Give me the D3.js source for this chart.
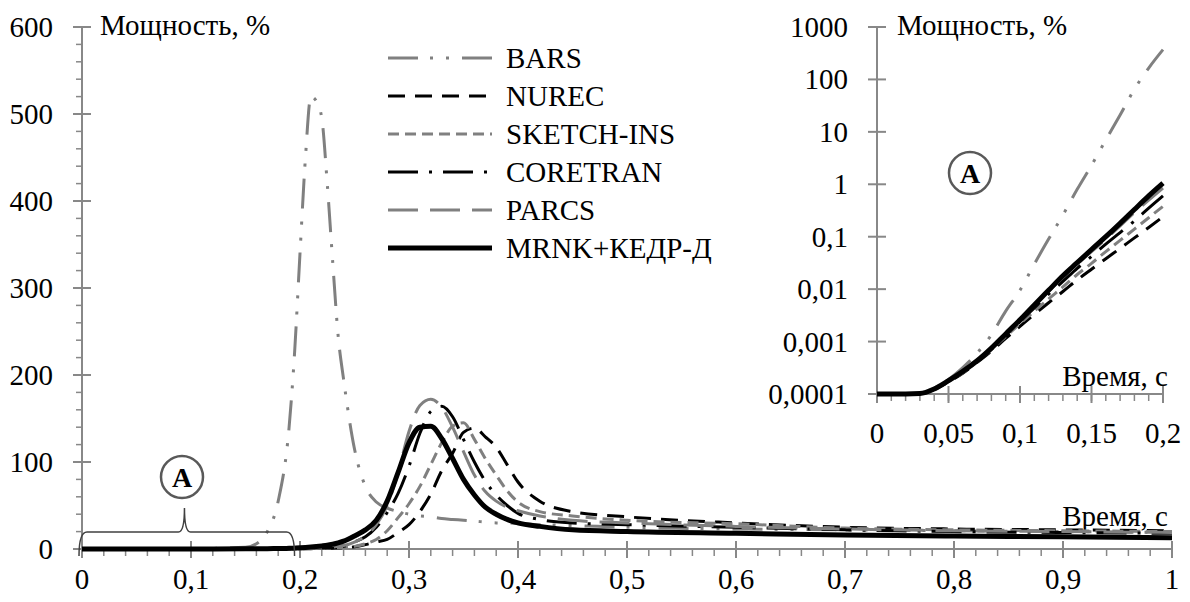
<!DOCTYPE html>
<html>
<head>
<meta charset="utf-8">
<script src="https://cdnjs.cloudflare.com/ajax/libs/d3/7.8.5/d3.min.js"></script>
<style>
  body { margin: 0; background: #fff; }
</style>
</head>
<body>
<div class="chart"></div>
<script>
// main chart, power in % vs time in s
var time = [0, 0.05, 0.1, 0.15, 0.16, 0.17, 0.18, 0.19, 0.195, 0.2, 0.205, 0.21, 0.215, 0.22, 0.225, 0.23, 0.235, 0.24,
  0.25, 0.26, 0.27, 0.28, 0.29, 0.3, 0.31, 0.32, 0.33, 0.34, 0.35, 0.36, 0.37, 0.38, 0.39, 0.4, 0.42, 0.45, 0.5, 0.6, 0.7, 0.8, 0.9, 1.0];
var bars = [0, 0, 0.3, 2, 6, 20, 55, 140, 225, 340, 450, 520, 515, 495, 420, 330, 245, 195,
  115, 72, 54, 47, 43, 40, 38, 37, 35, 34, 33, 32, 31, 30, 30, 29, 28, 27, 25, 23, 22, 21, 20, 19];
var nurec = [0, 0, 0, 0, 0, 0, 0, 0.1, 0.1, 0.2, 0.3, 0.4, 0.5, 0.6, 0.8, 1, 1.2, 1.5,
  2.5, 5, 8, 11, 19, 28, 43, 63, 90, 110, 134, 139, 129, 117, 97, 77, 55, 43, 37, 30, 25, 23, 22, 21];
var sketch = [0, 0, 0, 0, 0, 0, 0, 0.1, 0.2, 0.3, 0.4, 0.5, 0.6, 0.8, 1, 1.2, 1.5, 2,
  3, 6, 11, 21, 36, 52, 72, 97, 122, 141, 145, 126, 104, 85, 67, 54, 43, 38, 33, 29, 24, 22, 21, 20];
var coretran = [0, 0, 0, 0, 0, 0, 0, 0.2, 0.3, 0.4, 0.5, 0.7, 0.9, 1.1, 1.4, 1.8, 2.3, 3,
  8, 14, 25, 42, 64, 95, 133, 158, 164, 152, 126, 100, 78, 62, 50, 41, 34, 30, 28, 25, 22, 20, 19, 18];
var parcs = [0, 0, 0, 0, 0, 0, 0, 0.2, 0.3, 0.4, 0.5, 0.7, 0.9, 1.2, 1.6, 2.2, 3, 4,
  8, 15, 28, 50, 88, 135, 165, 172, 163, 140, 112, 85, 66, 55, 48, 44, 38, 33, 30, 26, 23, 21, 20, 19];
var mrnk = [0, 0, 0, 0.2, 0.3, 0.4, 0.5, 0.8, 1, 1.3, 1.7, 2.2, 2.8, 3.5, 4.3, 5.5, 7, 9,
  15, 22, 33, 55, 88, 122, 140, 141, 127, 104, 80, 62, 48, 40, 34, 30, 26, 22, 20, 18, 16, 15, 14, 13];

// inset, log scale, first 0.2 s
var timeA = [0, 0.01, 0.02, 0.03, 0.04, 0.05, 0.06, 0.07, 0.08, 0.09, 0.1, 0.11, 0.12, 0.13, 0.14, 0.15, 0.16, 0.17, 0.18, 0.19, 0.2];
var barsA = [1e-4, 1e-4, 1e-4, 1.03e-4, 1.3e-4, 1.9e-4, 3.2e-4, 6e-4, 1.35e-3, 3.8e-3, 9.5e-3, 0.03, 0.09, 0.26, 0.8, 2.3, 7, 21, 65, 165, 370];
var nurecA = [1e-4, 1e-4, 1e-4, 1.02e-4, 1.22e-4, 1.7e-4, 2.5e-4, 4e-4, 6.6e-4, 1.15e-3, 1.95e-3, 3.3e-3, 5.5e-3, 9e-3, 0.015, 0.024, 0.038, 0.06, 0.095, 0.15, 0.24];
var sketchA = [1e-4, 1e-4, 1e-4, 1.02e-4, 1.23e-4, 1.72e-4, 2.55e-4, 4.1e-4, 7e-4, 1.25e-3, 2.2e-3, 3.8e-3, 6.5e-3, 0.011, 0.019, 0.031, 0.052, 0.085, 0.14, 0.23, 0.38];
var coretranA = [1e-4, 1e-4, 1e-4, 1.02e-4, 1.25e-4, 1.78e-4, 2.65e-4, 4.2e-4, 7.3e-4, 1.35e-3, 2.4e-3, 4.4e-3, 8e-3, 0.014, 0.025, 0.042, 0.072, 0.12, 0.2, 0.35, 0.6];
var parcsA = [1e-4, 1e-4, 1e-4, 1.02e-4, 1.25e-4, 1.8e-4, 2.7e-4, 4.3e-4, 7.5e-4, 1.4e-3, 2.5e-3, 4.8e-3, 9e-3, 0.017, 0.03, 0.052, 0.09, 0.16, 0.29, 0.5, 0.85];
var mrnkA = [1e-4, 1e-4, 1e-4, 1.02e-4, 1.25e-4, 1.8e-4, 2.7e-4, 4.3e-4, 7.5e-4, 1.4e-3, 2.6e-3, 5e-3, 9.5e-3, 0.018, 0.032, 0.057, 0.1, 0.18, 0.33, 0.6, 1.05];

var yTicks = [0, 100, 200, 300, 400, 500, 600];
var xTicks = [0, 0.1, 0.2, 0.3, 0.4, 0.5, 0.6, 0.7, 0.8, 0.9, 1];
var yTicksA = [1e-4, 1e-3, 0.01, 0.1, 1, 10, 100, 1000];
var xTicksA = [0, 0.05, 0.1, 0.15, 0.2];

var gray = '#808080';
var axisColor = '#888';
var fontSize = 29;

var series = [
  { name: 'BARS', main: bars, inset: barsA, color: gray, width: 3, dash: '30 12 3 13 3 13' },
  { name: 'NUREC', main: nurec, inset: nurecA, color: '#000', width: 3, dash: '17 10' },
  { name: 'SKETCH-INS', main: sketch, inset: sketchA, color: gray, width: 3, dash: '11 6' },
  { name: 'CORETRAN', main: coretran, inset: coretranA, color: '#000', width: 3, dash: '30 11 3 11' },
  { name: 'PARCS', main: parcs, inset: parcsA, color: gray, width: 3, dash: '30 12' },
  { name: 'MRNK+КЕДР-Д', main: mrnk, inset: mrnkA, color: '#000', width: 5, dash: null }
];

var W = 1190, H = 602;

var svg = d3.select('.chart')
  .append('svg')
    .attr('width', W)
    .attr('height', H)
    .attr('font-family', 'Liberation Serif, Tinos, DejaVu Serif, serif');

var x = d3.scaleLinear().domain([0, 1]).range([82, 1172]);
var y = d3.scaleLinear().domain([0, 600]).range([549, 27]);
var xi = d3.scaleLinear().domain([0, 0.2]).range([877, 1163]);
var yi = d3.scaleLog().domain([1e-4, 1000]).range([394, 27]);

// ---------- main axes ----------
var g = svg.append('g');

g.append('line')
  .attr('x1', x(0)).attr('x2', x(0))
  .attr('y1', y(0)).attr('y2', y(600))
  .attr('stroke', axisColor).attr('stroke-width', 2);
g.append('line')
  .attr('x1', x(0)).attr('x2', x(1))
  .attr('y1', y(0)).attr('y2', y(0))
  .attr('stroke', axisColor).attr('stroke-width', 2);

// y minor ticks (outside only) every 20
g.selectAll('.ymin')
  .data(d3.range(0, 601, 20))
  .enter().append('line')
    .attr('x1', x(0) - 6).attr('x2', x(0))
    .attr('y1', d => y(d)).attr('y2', d => y(d))
    .attr('stroke', axisColor).attr('stroke-width', 1.5);
g.selectAll('.ymaj')
  .data(yTicks)
  .enter().append('line')
    .attr('x1', x(0) - 9).attr('x2', x(0) + 9)
    .attr('y1', d => y(d)).attr('y2', d => y(d))
    .attr('stroke', axisColor).attr('stroke-width', 2);
g.selectAll('.ylab')
  .data(yTicks)
  .enter().append('text')
    .attr('x', 53)
    .attr('y', d => y(d) + 10)
    .attr('text-anchor', 'end')
    .attr('font-size', fontSize)
    .text(d => d);

// x minor ticks every 0.02
g.selectAll('.xmin')
  .data(d3.range(0, 51).map(i => i / 50))
  .enter().append('line')
    .attr('x1', d => x(d)).attr('x2', d => x(d))
    .attr('y1', y(0)).attr('y2', y(0) + 7)
    .attr('stroke', axisColor).attr('stroke-width', 1.5);
g.selectAll('.xmaj')
  .data(xTicks)
  .enter().append('line')
    .attr('x1', d => x(d)).attr('x2', d => x(d))
    .attr('y1', y(0) - 8).attr('y2', y(0) + 9)
    .attr('stroke', axisColor).attr('stroke-width', 2);
g.selectAll('.xlab')
  .data(xTicks)
  .enter().append('text')
    .attr('x', d => x(d))
    .attr('y', 589)
    .attr('text-anchor', 'middle')
    .attr('font-size', fontSize)
    .text(d => String(d).replace('.', ','));

g.append('text')
  .attr('x', 100).attr('y', 35)
  .attr('font-size', fontSize)
  .text('Мощность, %');
g.append('text')
  .attr('x', 1168).attr('y', 526)
  .attr('text-anchor', 'end')
  .attr('font-size', fontSize)
  .text('Время, с');

// ---------- inset axes ----------
var gi = svg.append('g');

gi.append('line')
  .attr('x1', xi(0)).attr('x2', xi(0))
  .attr('y1', yi(1e-4)).attr('y2', yi(1000))
  .attr('stroke', axisColor).attr('stroke-width', 2);
gi.append('line')
  .attr('x1', xi(0)).attr('x2', xi(0.2))
  .attr('y1', yi(1e-4)).attr('y2', yi(1e-4))
  .attr('stroke', axisColor).attr('stroke-width', 2);
gi.selectAll('.yimaj')
  .data(yTicksA)
  .enter().append('line')
    .attr('x1', xi(0) - 9).attr('x2', xi(0) + 9)
    .attr('y1', d => yi(d)).attr('y2', d => yi(d))
    .attr('stroke', axisColor).attr('stroke-width', 2);
gi.selectAll('.yilab')
  .data(yTicksA)
  .enter().append('text')
    .attr('x', 848)
    .attr('y', d => yi(d) + 10)
    .attr('text-anchor', 'end')
    .attr('font-size', fontSize)
    .text(d => d >= 1 ? String(d) : String(+d.toFixed(4)).replace('.', ','));
gi.selectAll('.ximin')
  .data(d3.range(0, 21).map(i => i / 100))
  .enter().append('line')
    .attr('x1', d => xi(d)).attr('x2', d => xi(d))
    .attr('y1', yi(1e-4)).attr('y2', yi(1e-4) + 7)
    .attr('stroke', axisColor).attr('stroke-width', 1.5);
gi.selectAll('.ximaj')
  .data(xTicksA)
  .enter().append('line')
    .attr('x1', d => xi(d)).attr('x2', d => xi(d))
    .attr('y1', yi(1e-4) - 8).attr('y2', yi(1e-4) + 9)
    .attr('stroke', axisColor).attr('stroke-width', 2);
gi.selectAll('.xilab')
  .data(xTicksA)
  .enter().append('text')
    .attr('x', d => xi(d))
    .attr('y', 443)
    .attr('text-anchor', 'middle')
    .attr('font-size', fontSize)
    .text(d => String(d).replace('.', ','));

gi.append('text')
  .attr('x', 897).attr('y', 35)
  .attr('font-size', fontSize)
  .text('Мощность, %');
gi.append('text')
  .attr('x', 1168).attr('y', 386)
  .attr('text-anchor', 'end')
  .attr('font-size', fontSize)
  .text('Время, с');

// ---------- curves ----------
var line = d3.line()
  .x((d, i) => x(time[i]))
  .y(d => y(d))
  .curve(d3.curveMonotoneX);

var lineA = d3.line()
  .x((d, i) => xi(timeA[i]))
  .y(d => yi(d))
  .curve(d3.curveMonotoneX);

series.forEach(function (s) {
  svg.append('path')
    .attr('d', line(s.main))
    .attr('fill', 'none')
    .attr('stroke', s.color)
    .attr('stroke-width', s.width)
    .attr('stroke-dasharray', s.dash);
  svg.append('path')
    .attr('d', lineA(s.inset))
    .attr('fill', 'none')
    .attr('stroke', s.color)
    .attr('stroke-width', s.width)
    .attr('stroke-dasharray', s.dash);
});

// ---------- legend ----------
var legend = svg.append('g');
var leg = legend.selectAll('g')
  .data(series)
  .enter().append('g')
    .attr('transform', (d, i) => 'translate(0,' + (58 + i * 38) + ')');
leg.append('line')
  .attr('x1', 388).attr('x2', 492)
  .attr('stroke', d => d.color)
  .attr('stroke-width', d => d.width)
  .attr('stroke-dasharray', d => d.dash);
leg.append('text')
  .attr('x', 506).attr('y', 10)
  .attr('font-size', fontSize)
  .text(d => d.name);

// ---------- "A" markers and brace ----------
function marker(cx, cy) {
  svg.append('circle')
    .attr('cx', cx).attr('cy', cy).attr('r', 21)
    .attr('fill', 'none')
    .attr('stroke', '#595959')
    .attr('stroke-width', 2.5);
  svg.append('text')
    .attr('x', cx).attr('y', cy + 10)
    .attr('text-anchor', 'middle')
    .attr('font-size', 28)
    .attr('font-weight', 'bold')
    .text('A');
}
marker(182, 477);
marker(970, 173);

var bx0 = x(0) - 3, bx1 = x(0.195), bm = x(0.094), by = 532;
svg.append('path')
  .attr('d', 'M' + bx0 + ',556 Q' + bx0 + ',' + by + ' ' + (bx0 + 8) + ',' + by +
    ' L' + (bm - 6) + ',' + by + ' Q' + bm + ',' + by + ' ' + bm + ',' + (by - 24) +
    ' Q' + bm + ',' + by + ' ' + (bm + 6) + ',' + by +
    ' L' + (bx1 - 8) + ',' + by + ' Q' + bx1 + ',' + by + ' ' + bx1 + ',556')
  .attr('fill', 'none')
  .attr('stroke', '#404040')
  .attr('stroke-width', 1.5);
</script>
</body>
</html>
